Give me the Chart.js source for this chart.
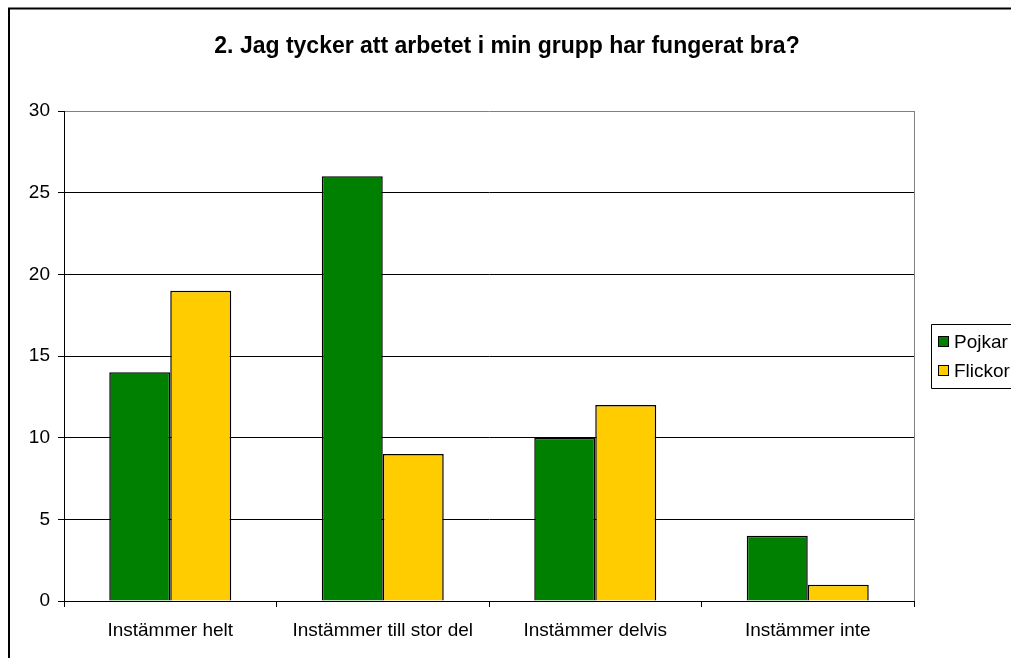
<!DOCTYPE html>
<html><head><meta charset="utf-8">
<script src="https://cdn.jsdelivr.net/npm/chart.js@4/dist/chart.umd.min.js"></script>
<style>html,body{margin:0;padding:0;background:#fff}#w{width:1011px;height:658px}</style>
</head><body><div id="w"><canvas id="c" width="1011" height="658"></canvas></div>
<script>
const categories = ['Instämmer helt', 'Instämmer till stor del', 'Instämmer delvis', 'Instämmer inte'];
const pojkar = [14, 26, 10, 4];
const flickor = [19, 9, 12, 1];
const seriesNames = ['Pojkar', 'Flickor'];
const yTicks = [0, 5, 10, 15, 20, 25, 30];
const titleText = '2. Jag tycker att arbetet i min grupp har fungerat bra?';
const FONT = "'Liberation Sans', Arial, sans-serif";

const framePlugin = {
  id: 'frame',
  beforeDraw(chart) {
    const c = chart.ctx;
    c.save();
    c.fillStyle = '#fff';
    c.fillRect(0, 0, chart.width, chart.height);
    c.strokeStyle = '#000';
    c.lineWidth = 2;
    c.beginPath();
    c.moveTo(9, chart.height);
    c.lineTo(9, 8.5);
    c.lineTo(chart.width, 8.5);
    c.stroke();
    c.fillStyle = '#000';
    c.font = 'bold 23px ' + FONT;
    c.textAlign = 'center';
    c.textBaseline = 'alphabetic';
    c.fillText(titleText, 507, 53);
    c.restore();
  },
  afterDatasetsDraw(chart) {
    const c = chart.ctx, a = chart.chartArea;
    c.save();
    c.strokeStyle = '#808080';
    c.lineWidth = 1;
    c.beginPath();
    c.moveTo(Math.round(a.right) + 0.5, a.top);
    c.lineTo(Math.round(a.right) + 0.5, a.bottom);
    c.stroke();
    // legend
    const lx = 931.5, ly = 324.5;
    c.strokeStyle = '#000';
    c.beginPath();
    c.moveTo(chart.width + 2, ly);
    c.lineTo(lx, ly);
    c.lineTo(lx, ly + 64);
    c.lineTo(chart.width + 2, ly + 64);
    c.stroke();
    c.font = '19px ' + FONT;
    c.textBaseline = 'alphabetic';
    chart.data.datasets.forEach((ds, i) => {
      const base = 348 + i * 29;
      c.fillStyle = ds.backgroundColor;
      c.fillRect(938.5, base - 11.5, 10, 10);
      c.strokeRect(938.5, base - 11.5, 10, 10);
      c.fillStyle = '#000';
      c.fillText(ds.label, 954, base);
    });
    c.restore();
  }
};

new Chart(document.getElementById('c'), {
  type: 'bar',
  data: {
    labels: categories,
    datasets: [
      { label: seriesNames[0], data: pojkar, backgroundColor: '#008000', borderColor: '#000', borderWidth: 1.5 },
      { label: seriesNames[1], data: flickor, backgroundColor: '#FFCC00', borderColor: '#000', borderWidth: 1.5 }
    ]
  },
  options: {
    responsive: false,
    animation: false,
    devicePixelRatio: 1,
    layout: { padding: { left: 0, right: 97, top: 111, bottom: 0 } },
    datasets: { bar: { categoryPercentage: 0.574, barPercentage: 1 } },
    plugins: {
      legend: { display: false },
      tooltip: { enabled: false },
      title: { display: false }
    },
    scales: {
      x: {
        offset: true,
        grid: { offset: true, drawOnChartArea: false, drawTicks: true, tickLength: 6, color: '#000' },
        border: { color: '#000', width: 1 },
        ticks: { color: '#000', font: { family: FONT, size: 19 }, padding: 12, maxRotation: 0, autoSkip: false },
        afterFit(s) { s.height = 57; }
      },
      y: {
        min: 0, max: 30,
        afterBuildTicks(s) { s.ticks = yTicks.map(v => ({ value: v })); },
        grid: {
          color: ctx => (ctx.tick && ctx.tick.value === 30) ? '#808080' : '#000',
          tickColor: '#000', tickLength: 6, lineWidth: 1
        },
        border: { color: '#000', width: 1 },
        ticks: { color: '#000', font: { family: FONT, size: 19 }, padding: 8 },
        afterFit(s) { s.width = 64; }
      }
    }
  },
  plugins: [framePlugin]
});
</script></body></html>
